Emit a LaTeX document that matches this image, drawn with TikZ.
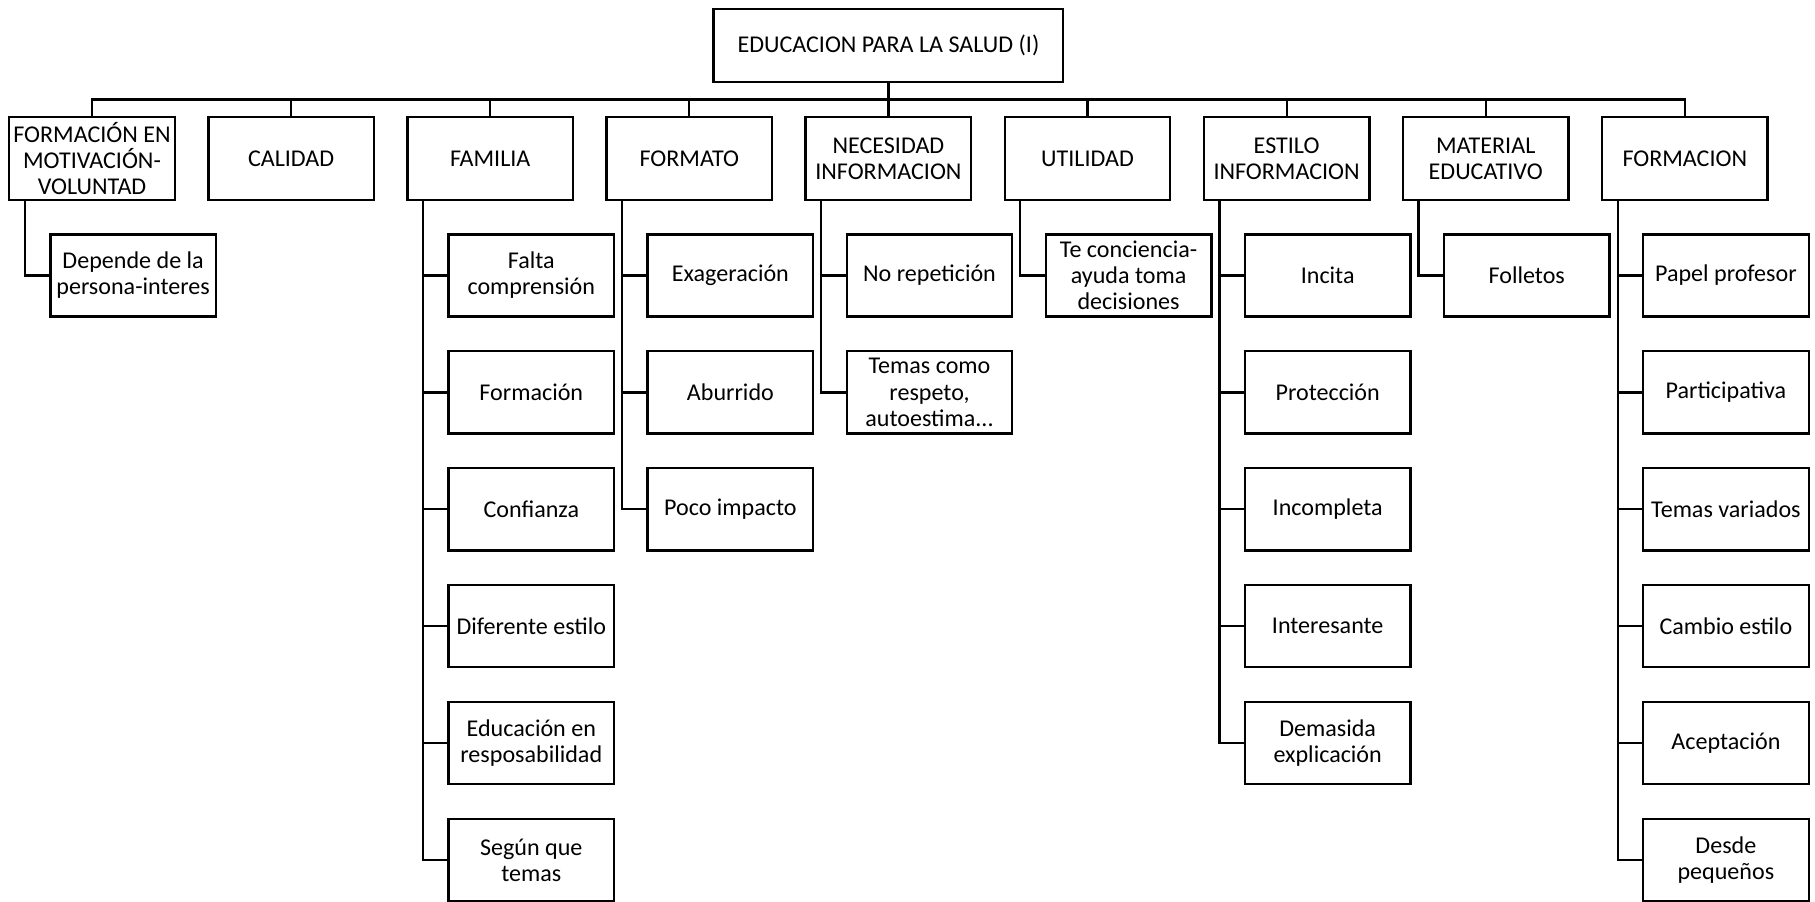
\documentclass[tikz,border=0pt]{standalone}
\usepackage{fontspec}
\setmainfont{Carlito}
\begin{document}
\begin{tikzpicture}[x=1pt,y=-1pt,
  box/.style={draw=black, line width=2pt, minimum width=143pt, minimum height=71pt,
    inner sep=0pt, align=center, font=\fontsize{20.8}{22.5}\selectfont},
  topbox/.style={box, minimum height=72pt},
  rootbox/.style={box, minimum width=302pt, minimum height=63pt},
  link/.style={line width=1.9pt},
  buslink/.style={line width=2.6pt}]
\useasboundingbox (0,0) rectangle (1568,778.4);

% root
\node[rootbox] (root) at (767.5,39.5) {EDUCACION PARA LA SALUD (I)};
\coordinate (bus) at (767.5,86);

% first level
\node[topbox] (formmot)   at (79.5,137)   {FORMACIÓN EN\\MOTIVACIÓN-\\VOLUNTAD};
\node[topbox] (calidad)   at (251.5,137)  {CALIDAD};
\node[topbox] (familia)   at (423.5,137)  {FAMILIA};
\node[topbox] (formato)   at (595.5,137)  {FORMATO};
\node[topbox] (necesidad) at (767.5,137)  {NECESIDAD\\INFORMACION};
\node[topbox] (utilidad)  at (939.5,137)  {UTILIDAD};
\node[topbox] (estilo)    at (1111.5,137) {ESTILO\\INFORMACION};
\node[topbox] (material)  at (1283.5,137) {MATERIAL\\EDUCATIVO};
\node[topbox] (formacion) at (1455.5,137) {FORMACION};

% root to first level
\draw[link] (root.south) -- (bus);
\foreach \n in {formmot,calidad,familia,formato,necesidad,utilidad,estilo,material,formacion}
  \draw[link] (bus) -| (\n.north);
\draw[buslink] (calidad.north |- bus) -- (material.north |- bus);

% second level
\node[box] (mot1) at (115,238) {Depende de la\\persona-interes};

\node[box] (fam1) at (459,238) {Falta\\comprensión};
\node[box] (fam2) at (459,339) {Formación};
\node[box] (fam3) at (459,440) {Confianza};
\node[box] (fam4) at (459,541) {Diferente estilo};
\node[box] (fam5) at (459,642) {Educación en\\resposabilidad};
\node[box] (fam6) at (459,743) {Según que\\temas};

\node[box] (fto1) at (631,238) {Exageración};
\node[box] (fto2) at (631,339) {Aburrido};
\node[box] (fto3) at (631,440) {Poco impacto};

\node[box] (nec1) at (803,238) {No repetición};
\node[box] (nec2) at (803,339) {Temas como\\respeto,\\autoestima...};

\node[box] (uti1) at (975,238) {Te conciencia-\\ayuda toma\\decisiones};

\node[box] (est1) at (1147,238) {Incita};
\node[box] (est2) at (1147,339) {Protección};
\node[box] (est3) at (1147,440) {Incompleta};
\node[box] (est4) at (1147,541) {Interesante};
\node[box] (est5) at (1147,642) {Demasida\\explicación};

\node[box] (mat1) at (1319,238) {Folletos};

\node[box] (fcn1) at (1491,238) {Papel profesor};
\node[box] (fcn2) at (1491,339) {Participativa};
\node[box] (fcn3) at (1491,440) {Temas variados};
\node[box] (fcn4) at (1491,541) {Cambio estilo};
\node[box] (fcn5) at (1491,642) {Aceptación};
\node[box] (fcn6) at (1491,743) {Desde\\pequeños};

% first level to second level
\draw[link] ([xshift=14.5pt]formmot.south west) |- (mot1.west);
\foreach \c in {fam1,fam2,fam3,fam4,fam5,fam6}
  \draw[link] ([xshift=14.5pt]familia.south west) |- (\c.west);
\foreach \c in {fto1,fto2,fto3}
  \draw[link] ([xshift=14.5pt]formato.south west) |- (\c.west);
\foreach \c in {nec1,nec2}
  \draw[link] ([xshift=14.5pt]necesidad.south west) |- (\c.west);
\draw[link] ([xshift=14.5pt]utilidad.south west) |- (uti1.west);
\foreach \c in {est1,est2,est3,est4,est5}
  \draw[link] ([xshift=14.5pt]estilo.south west) |- (\c.west);
\draw[link] ([xshift=14.5pt]material.south west) |- (mat1.west);
\foreach \c in {fcn1,fcn2,fcn3,fcn4,fcn5,fcn6}
  \draw[link] ([xshift=14.5pt]formacion.south west) |- (\c.west);
\end{tikzpicture}
\end{document}
